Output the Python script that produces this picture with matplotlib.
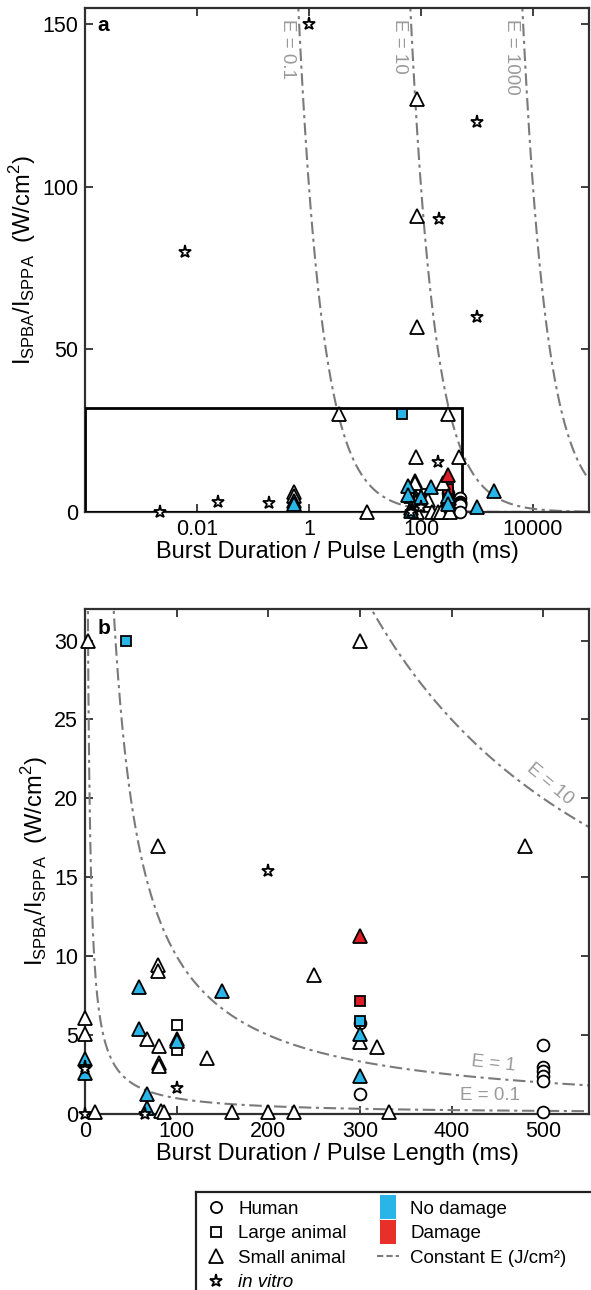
import numpy as np
import matplotlib
matplotlib.use("Agg")
import matplotlib.pyplot as plt
from matplotlib.lines import Line2D
from matplotlib.patches import Rectangle

plt.rcParams['font.family'] = ['Liberation Sans', 'DejaVu Sans']
plt.rcParams['mathtext.fontset'] = 'custom'
plt.rcParams['mathtext.rm'] = 'Liberation Sans'

# burst duration (ms), intensity (W/cm2), damage code: 0 not reported, 1 no damage, 2 damage
human_t = [300, 300, 500, 500, 500, 500, 500, 500]
human_i = [5.75, 1.26, 4.4, 3.0, 2.7, 2.4, 2.1, 0.15]
human_d = [0, 0, 0, 0, 0, 0, 0, 0]

large_t = [45, 100, 100, 300, 300]
large_i = [30, 5.62, 4.06, 7.16, 5.9]
large_d = [1, 0, 0, 2, 1]

small_t = [3.5, 0.54, 0.54, 10.8, 80, 480, 300, 85, 85, 85, 79.4, 79.4, 67.5, 80.7,
           100, 133, 80.7, 80.7, 83, 86, 160, 200, 228, 332, 250, 300, 319,
           0.54, 0.54, 58.5, 58.5, 100, 149, 67.5, 67.5, 300, 300, 1000, 2000,
           300]
small_i = [30, 6.1, 5.05, 0.15, 17, 17, 30, 127, 91, 57, 9.47, 9.05, 4.78, 4.32,
           4.75, 3.58, 3.26, 3.05, 0.2, 0.12, 0.1, 0.1, 0.1, 0.1, 8.78, 4.57, 4.27,
           3.5, 2.6, 8.07, 5.37, 4.63, 7.79, 1.26, 0.36, 5.05, 2.38, 1.6, 6.5,
           11.26]
small_d = [0] * 27 + [1] * 12 + [2]

vitro_t = [0.0022, 0.024, 0.19, 0.0062, 1, 214, 1000, 1000, 200, 100, 65]
vitro_i = [0, 3, 2.84, 80, 150, 90, 120, 60, 15.4, 1.62, 0]

e_levels_a = [0.1, 10, 1000]
e_levels_b = [0.1, 1, 10]

fill = {0: 'white', 1: '#29B5E8', 2: '#DA1F28'}
curve_col = '#7a7a7a'
label_col = '#9a9a9a'
dash = (0, (6, 2.2, 1.5, 2.2))

fig = plt.figure(figsize=(5.91, 12.9), dpi=100)
axa = fig.add_axes([0.1438, 0.6031, 0.8528, 0.3907])
axb = fig.add_axes([0.1438, 0.1364, 0.8528, 0.3915])

groups = [
    (human_t, human_i, human_d, 'o', 8.5),
    (large_t, large_i, large_d, 's', 6.5),
    (small_t, small_i, small_d, '^', 10.5),
    (vitro_t, vitro_i, [0] * len(vitro_t), '*', 9.5),
]


def draw_points(ax, tmax, imax):
    for t, i, d, mk, ms in groups:
        t = np.array(t); i = np.array(i); d = np.array(d)
        keep = (t <= tmax) & (i <= imax)
        for code in [0, 1, 2]:
            sel = keep & (d == code)
            if sel.any():
                ax.plot(t[sel], i[sel], linestyle='none', marker=mk, ms=ms,
                        mfc=fill[code], mec='black', mew=1.3, zorder=4,
                        clip_on=False)


def style(ax):
    for s in ax.spines.values():
        s.set_linewidth(1.6)
        s.set_color('#303030')
    ax.tick_params(direction='in', length=6, width=1.3, labelsize=15.5,
                   top=True, right=True, color='#303030', pad=5)
    ax.minorticks_off()


# panel a
ta = np.logspace(-4, 5, 600)
for e in e_levels_a:
    axa.plot(ta, 1000 * e / ta, color=curve_col, lw=1.5, linestyle=dash, zorder=2)
    axa.text(1000 * e / 145 / 1.7, 151.5, 'E = %g' % e, rotation=270, ha='center',
             va='top', color=label_col, fontsize=13.5)
axa.add_patch(Rectangle((1e-4, 0), 550 - 1e-4, 32, fill=False, lw=2,
                        edgecolor='black', zorder=3))
draw_points(axa, 1e5, 200)
axa.set_xscale('log')
axa.set_xlim(1e-4, 1e5)
axa.set_ylim(0, 155)
axa.set_xticks([0.01, 1, 100, 10000])
axa.set_xticklabels(['0.01', '1', '100', '10000'])
axa.set_yticks([0, 50, 100, 150])
style(axa)
axa.text(0.025, 0.966, 'a', transform=axa.transAxes, fontsize=15,
         fontweight='bold', ha='left', va='center')

# panel b
tb = np.linspace(0.5, 550, 1200)
for e in e_levels_b:
    axb.plot(tb, 1000 * e / tb, color=curve_col, lw=1.5, linestyle=dash, zorder=2)
axb.text(507, 20.9, 'E = 10', rotation=-40, ha='center', va='center',
         color=label_col, fontsize=13.5)
axb.text(446, 3.2, 'E = 1', rotation=-6, ha='center', va='center',
         color=label_col, fontsize=13.5)
axb.text(442, 1.15, 'E = 0.1', ha='center', va='center',
         color=label_col, fontsize=13.5)
draw_points(axb, 550, 32)
axb.set_xlim(0, 550)
axb.set_ylim(0, 32)
axb.set_xticks([0, 100, 200, 300, 400, 500])
axb.set_yticks([0, 5, 10, 15, 20, 25, 30])
style(axb)
axb.text(0.025, 0.962, 'b', transform=axb.transAxes, fontsize=15,
         fontweight='bold', ha='left', va='center')

ylab = r'$\mathregular{I_{SPBA}/I_{SPPA}}$  (W/cm$^{2}$)'
for ax in (axa, axb):
    ax.set_xlabel('Burst Duration / Pulse Length (ms)', fontsize=17, labelpad=1)
    ax.set_ylabel(ylab, fontsize=17, labelpad=3)

# legend box
axl = fig.add_axes([0.3316, -0.05, 0.8, 0.126])
axl.set_xticks([])
axl.set_yticks([])
for s in axl.spines.values():
    s.set_linewidth(1.6)
    s.set_color('#202020')
axl.patch.set_alpha(0)

rect = [(-0.34, -0.5), (0.34, -0.5), (0.34, 0.5), (-0.34, 0.5)]
handles = [
    Line2D([], [], ls='none', marker='o', ms=8, mfc='white', mec='black', mew=1.3),
    Line2D([], [], ls='none', marker='s', ms=6.5, mfc='white', mec='black', mew=1.3),
    Line2D([], [], ls='none', marker='^', ms=9.5, mfc='white', mec='black', mew=1.3),
    Line2D([], [], ls='none', marker='*', ms=9.5, mfc='white', mec='black', mew=1.3),
    Line2D([], [], ls='none', marker=rect, ms=17.5, mfc=fill[1], mew=0),
    Line2D([], [], ls='none', marker=rect, ms=17.5, mfc='#E8302A', mew=0),
    Line2D([], [], color=curve_col, lw=1.5, linestyle=(0, (3, 1.5))),
]
labels = ['Human', 'Large animal', 'Small animal', 'in vitro',
          'No damage', 'Damage', 'Constant E (J/cm²)']
leg = axl.legend(handles, labels, ncol=2, loc='upper left', bbox_to_anchor=(0, 1),
                 frameon=False, fontsize=13.5, handlelength=1.2, handletextpad=0.6,
                 columnspacing=1.6, labelspacing=0.4, borderpad=0.45,
                 borderaxespad=0)
leg.get_texts()[3].set_style('italic')

fig.savefig('out.png', dpi=100)
